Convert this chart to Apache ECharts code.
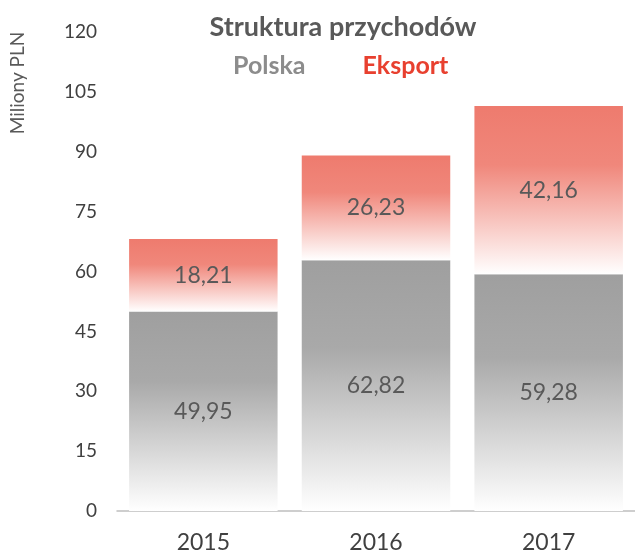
<!DOCTYPE html>
<html>
<head>
<meta charset="utf-8">
<script src="https://cdn.jsdelivr.net/npm/echarts@6/dist/echarts.min.js"></script>
<style>
  html, body { margin: 0; padding: 0; background: #fff; }
  #main { width: 635px; height: 554px; }
</style>
</head>
<body>
<div id="main"></div>
<script>
var years = ['2015', '2016', '2017'];
var polska = [49.95, 62.82, 59.28];
var eksport = [18.21, 26.23, 42.16];
var yTicks = { min: 0, max: 120, interval: 15 };

const _font = 'Lato, "Open Sans", sans-serif';

function grad(top, mid, bottom) {
    return new echarts.graphic.LinearGradient(0, 0, 0, 1, [
        { offset: 0, color: top },
        { offset: 0.35, color: mid },
        { offset: 1, color: bottom }
    ]);
}

function fmt(p) {
    return p.value.toFixed(2).replace('.', ',');
}

var dom = document.getElementById('main');
var myChart = echarts.init(dom, null, { renderer: 'canvas' });
var option = {
    animation: false,
    title: {
        text: 'Struktura przychodów',
        left: 338,
        textAlign: 'center',
        top: 9,
        textStyle: { fontFamily: _font, fontWeight: 'bold', fontSize: 27, color: '#595959' }
    },
    legend: {
        top: 48,
        left: 223,
        itemGap: 52,
        itemWidth: 0,
        itemHeight: 0,
        data: [
            { name: 'Polska', icon: 'none', textStyle: { color: '#8c8c8c' } },
            { name: 'Eksport', icon: 'none', textStyle: { color: '#e8402f' } }
        ],
        textStyle: { fontFamily: _font, fontWeight: 'bold', fontSize: 25 }
    },
    graphic: [{
        type: 'text',
        x: 18,
        y: 83,
        rotation: Math.PI / 2,
        style: {
            text: 'Miliony PLN',
            fill: '#595959',
            font: '19px ' + _font,
            align: 'center',
            verticalAlign: 'middle'
        }
    }],
    grid: { left: 117, right: -7, top: 32, bottom: 42 },
    xAxis: {
        type: 'category',
        data: years,
        axisLine: { lineStyle: { color: '#bfbfbf', width: 1.5 } },
        axisTick: { length: 8, lineStyle: { color: '#bfbfbf', width: 1.5 } },
        axisLabel: { margin: 20, fontFamily: _font, fontSize: 23, color: '#404040' }
    },
    yAxis: {
        type: 'value',
        min: yTicks.min,
        max: yTicks.max,
        interval: yTicks.interval,
        axisLine: { show: false },
        axisTick: { show: false },
        splitLine: { show: false },
        axisLabel: { margin: 20, fontFamily: _font, fontSize: 19, color: '#404040' }
    },
    series: [
        {
            name: 'Polska',
            type: 'bar',
            stack: 'a',
            barCategoryGap: '14%',
            data: polska,
            itemStyle: { color: grad('#9f9f9f', '#a9a9a9', '#ffffff') },
            label: { show: true, position: 'inside', formatter: fmt, fontFamily: _font, fontSize: 23, color: '#595959' }
        },
        {
            name: 'Eksport',
            type: 'bar',
            stack: 'a',
            data: eksport,
            itemStyle: { color: grad('#ee7b6e', '#f0877b', '#ffffff') },
            label: { show: true, position: 'inside', formatter: fmt, fontFamily: _font, fontSize: 23, color: '#595959' }
        }
    ]
};
myChart.setOption(option);
window.addEventListener('resize', myChart.resize);
</script>
</body>
</html>
